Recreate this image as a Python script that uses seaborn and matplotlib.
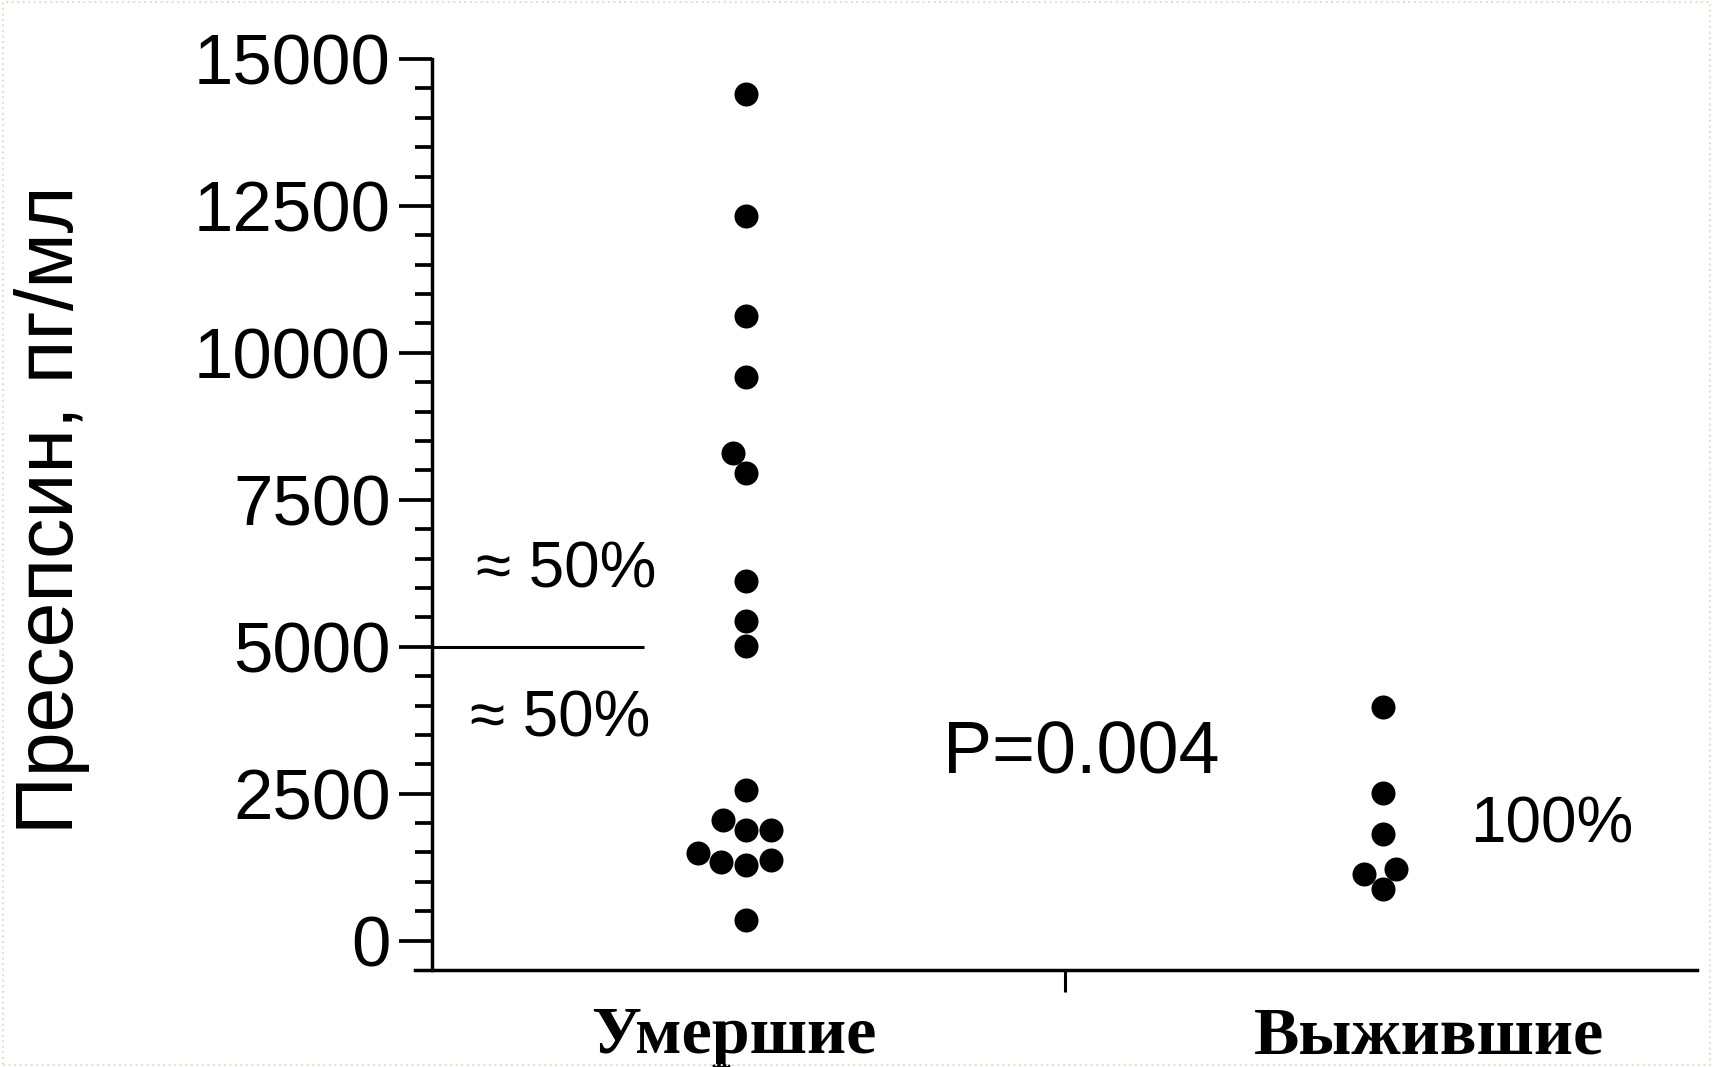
import numpy as np
import pandas as pd
import matplotlib
matplotlib.use("Agg")
import matplotlib.pyplot as plt
import matplotlib.transforms as mtransforms
from matplotlib.patches import Rectangle
import seaborn as sns

# ---------------- data ----------------
categories = ["Умершие", "Выжившие"]
died_values = [14400, 12330, 10620, 9590, 8300, 7950, 6120, 5440, 5020,
               2560, 2050, 1890, 1880, 1490, 1370, 1330, 1280, 350]
survived_values = [3970, 2510, 1820, 1220, 1130, 870]
y_ticks = [0, 2500, 5000, 7500, 10000, 12500, 15000]
y_label = "Пресепсин, пг/мл"
cutoff = 5000
above_label = "≈ 50%"
below_label = "≈ 50%"
survived_label = "100%"
p_label = "P=0.004"

df = pd.DataFrame({
    "group": [categories[0]] * len(died_values) + [categories[1]] * len(survived_values),
    "value": died_values + survived_values,
})

# ---------------- style ----------------
sns.set_style("ticks")
plt.rcParams["font.family"] = ["Liberation Sans", "DejaVu Sans"]
plt.rcParams["axes.linewidth"] = 2.5
for key in ("text.color", "axes.labelcolor", "xtick.color", "ytick.color",
            "axes.edgecolor"):
    plt.rcParams[key] = "black"

fig = plt.figure(figsize=(17.13, 10.67), dpi=100)
ax = fig.add_axes([0.24226, 0.09091, 0.74839, 0.85379])

sns.swarmplot(data=df, x="group", y="value", order=categories, color="black",
              size=17.3, linewidth=0, ax=ax)

x_left_spine = -0.493
ax.set_xlim(-0.52, 1.493)
ax.set_ylim(-500, 15000)

# spines
sns.despine(ax=ax, top=True, right=True)
ax.spines["left"].set_position(("data", x_left_spine))
for s in ("left", "bottom"):
    ax.spines[s].set_linewidth(2.5)
    ax.spines[s].set_color("black")

# y ticks
ax.set_yticks(y_ticks)
ax.set_yticklabels([str(t) for t in y_ticks])
ax.set_yticks([v for v in np.arange(500, 15000, 500) if v % 2500 != 0], minor=True)
ax.tick_params(axis="y", which="major", direction="out", length=23.8, width=2.7,
               labelsize=51, pad=6, colors="black")
ax.tick_params(axis="y", which="minor", direction="out", length=12.2, width=2.7,
               colors="black")

# x ticks: labels at categories, one separating tick between groups
ax.set_xticks([0, 1])
ax.set_xticklabels(categories, fontfamily=["Liberation Serif", "DejaVu Serif"],
                   fontweight="bold", fontsize=49, color="black")
ax.set_xticks([0.5], minor=True)
ax.tick_params(axis="x", which="major", length=0, pad=26)
ax.tick_params(axis="x", which="minor", direction="out", length=16, width=2.2,
               colors="black")
for lab, dx in zip(ax.get_xticklabels(), (-12, 46)):
    lab.set_transform(lab.get_transform() +
                      mtransforms.ScaledTranslation(dx / 100, 0, fig.dpi_scale_trans))

ax.set_xlabel("")
ax.set_ylabel(y_label, fontsize=58, color="black")
ax.yaxis.label.set(ha="center", va="center", rotation_mode="anchor")
ax.yaxis.set_label_coords(-0.283, 0.505)

# cut-off line and annotations
ax.hlines(cutoff, x_left_spine, -0.16, color="black", linewidth=2.2)
ax.text(-0.283, 6000, above_label, fontsize=46, ha="center", va="baseline", color="black")
ax.text(-0.292, 3470, below_label, fontsize=46, ha="center", va="baseline", color="black")
ax.text(0.526, 2840, p_label, fontsize=53, ha="center", va="baseline", color="black")
ax.text(1.265, 1670, survived_label, fontsize=46, ha="center", va="baseline", color="black")

# faint dotted frame around the picture
fig.patches.append(Rectangle((0.002, 0.002), 0.996, 0.996, transform=fig.transFigure,
                             fill=False, edgecolor="#e6e1c8", linestyle=":",
                             linewidth=1.5))

fig.savefig("out.png", dpi=100)
